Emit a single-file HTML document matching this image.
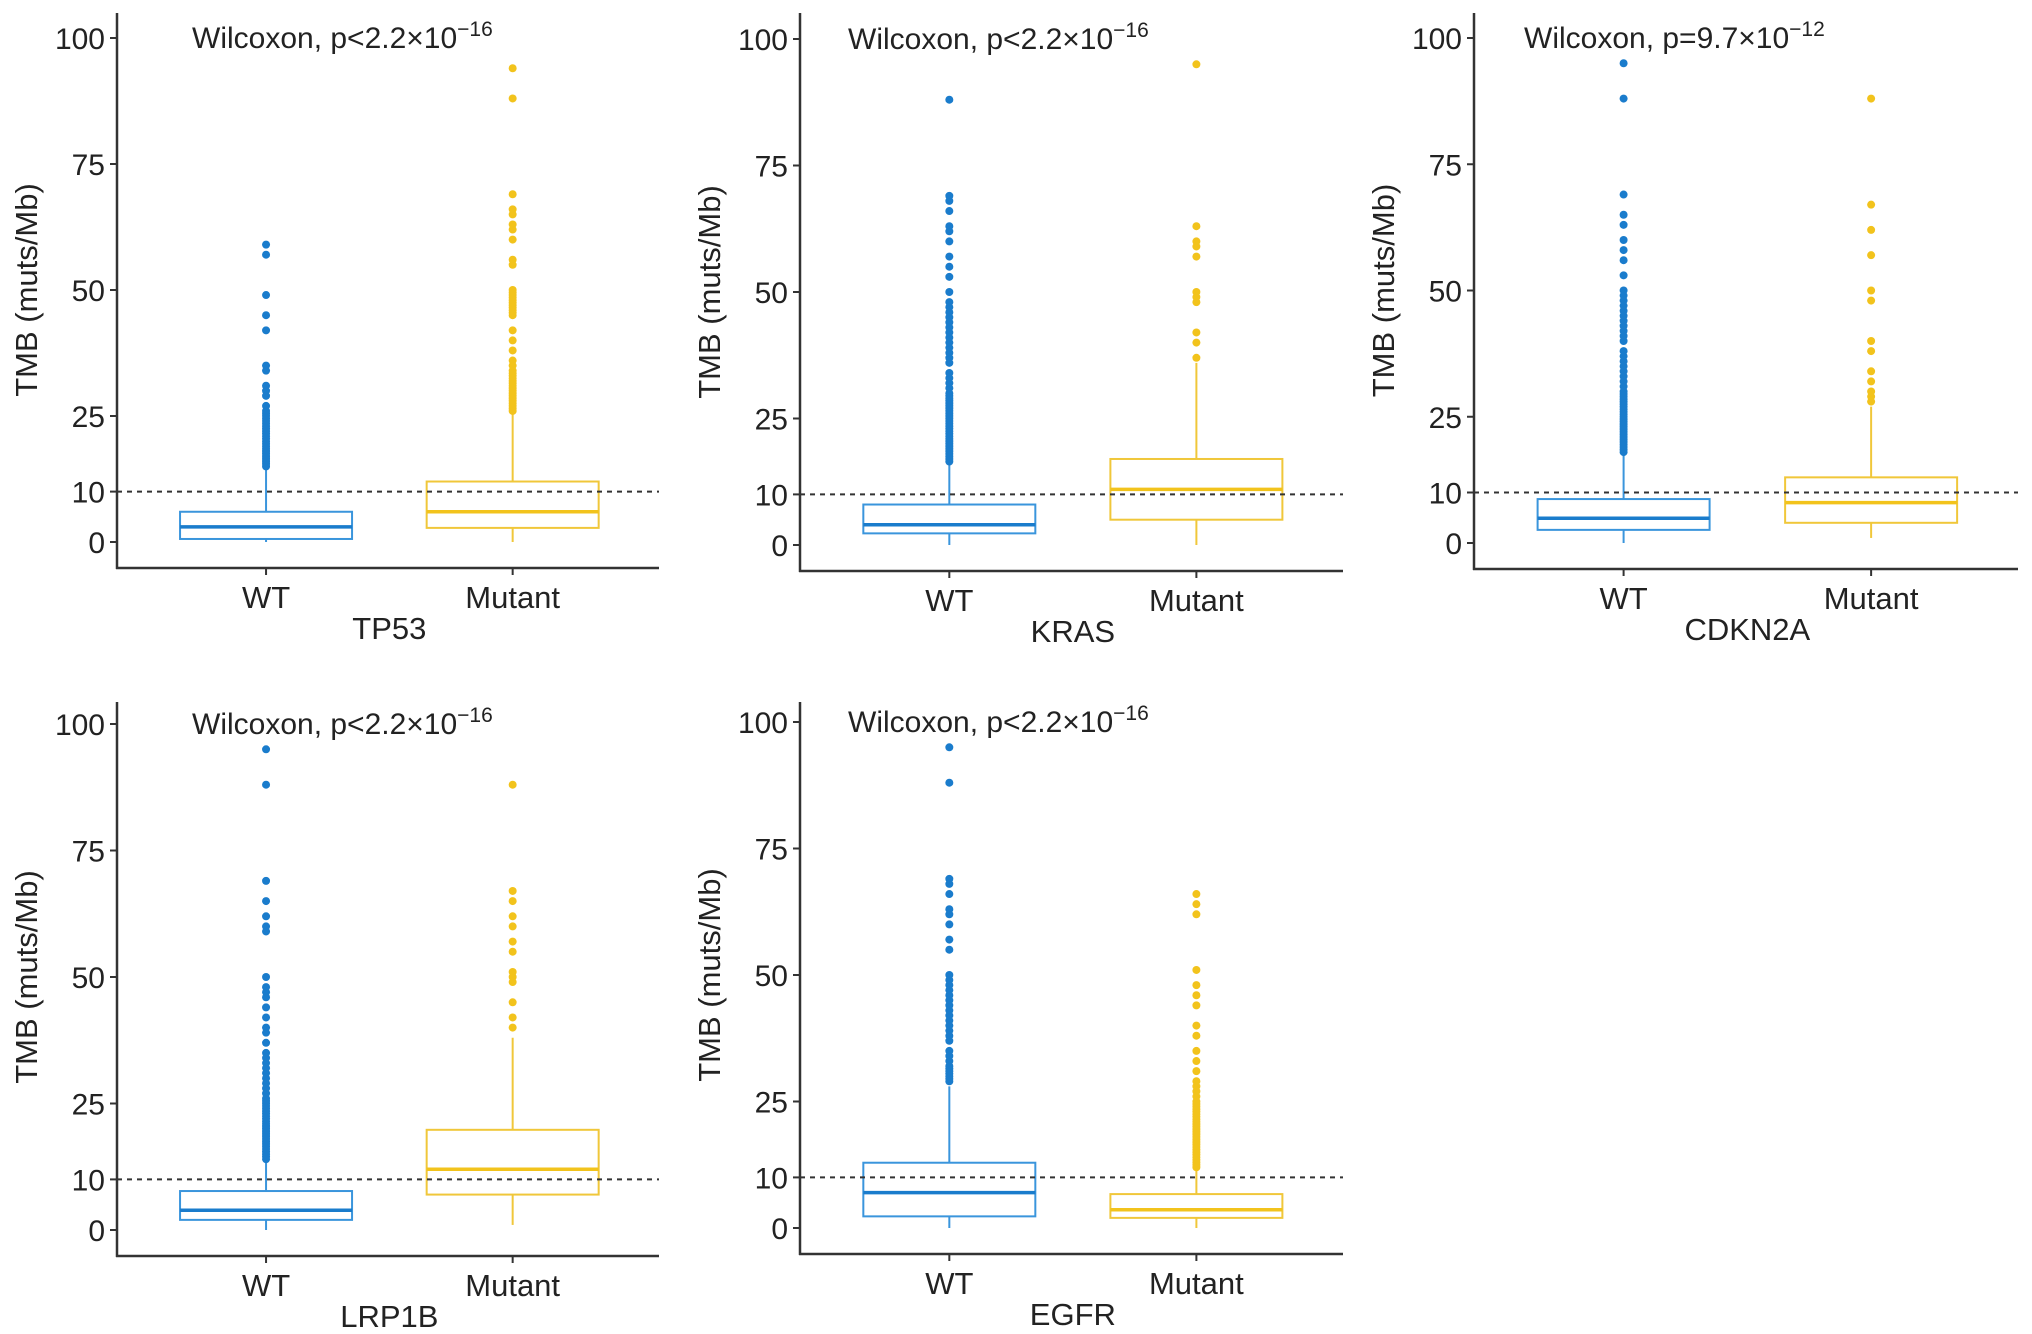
<!DOCTYPE html>
<html><head><meta charset="utf-8"><style>
html,body{margin:0;padding:0;background:#fff;}
svg{display:block;font-family:"Liberation Sans",Arial,sans-serif;}
</style></head><body>
<svg id="chart" width="2032" height="1334" viewBox="0 0 2032 1334" xmlns="http://www.w3.org/2000/svg"></svg>
<script>
// ---- data ----
const genes = ["TP53","KRAS","CDKN2A","LRP1B","EGFR"];
const pvalBase = ["p<2.2×10","p<2.2×10","p=9.7×10","p<2.2×10","p<2.2×10"];
const pvalExp = ["−16","−16","−12","−16","−16"];
const groups = ["WT","Mutant"];
const yTicks = [0,10,25,50,75,100];
// box stats per gene: [whiskerLow, q1, median, q3, whiskerHigh]
const wtStats = [[0,0.6,3,6,15],[0,2.3,4,8,16],[0,2.6,4.9,8.7,18],[0,2,3.9,7.7,14],[0,2.3,7,12.9,28]];
const mutStats = [[0,2.8,6,12,26],[0,5,11,17,36],[1,4,8,13,27],[1,7,12,19.8,38],[0,2,3.6,6.7,12]];
const wtOut = [
 [15,15.5,16,16.5,17,17.5,18,18.5,19,19.5,20,20.5,21,21.5,22,22.5,23,23.5,24,24.5,25,25.5,26,27,29,30,31,34,35,42,45,49,57,59],
 [16.5,17,17.5,18,18.5,19,19.5,20,20.5,21,21.5,22,22.5,23,23.5,24,24.5,25,25.5,26,26.5,27,27.5,28,28.5,29,29.5,30,31,32,33,34,36,37,38,39,40,41,42,43,44,45,46,47,48,50,53,55,57,60,62,63,66,68,69,88],
 [18,18.5,19,19.5,20,20.5,21,21.5,22,22.5,23,23.5,24,24.5,25,25.5,26,26.5,27,27.5,28,28.5,29,29.5,30,31,32,33,34,35,36,37,38,40,41,42,43,44,45,46,47,48,49,50,53,56,58,60,63,65,69,88,95],
 [14,14.5,15,15.5,16,16.5,17,17.5,18,18.5,19,19.5,20,20.5,21,21.5,22,22.5,23,23.5,24,24.5,25,25.5,26,27,28,29,30,31,32,33,34,35,37,39,40,42,44,46,47,48,50,59,60,62,65,69,88,95],
 [29,29.5,30,30.5,31,31.5,32,33,34,35,37,38,39,40,41,42,43,44,45,46,47,48,49,50,55,57,60,62,63,66,68,69,88,95]
];
const mutOut = [
 [26,26.5,27,27.5,28,28.5,29,29.5,30,30.5,31,31.5,32,32.5,33,33.5,34,35,36,38,40,42,45,45.5,46,46.5,47,47.5,48,48.5,49,49.5,50,55,56,60,62,63,65,66,69,88,94],
 [37,40,42,48,49,50,57,59,60,63,95],
 [28,29,30,32,34,38,40,48,50,57,62,67,88],
 [40,42,45,49,50,51,55,57,60,62,65,67,88],
 [12,12.5,13,13.5,14,14.5,15,15.5,16,16.5,17,17.5,18,18.5,19,19.5,20,20.5,21,21.5,22,22.5,23,23.5,24,24.5,25,26,27,28,29,31,33,35,38,40,44,46,48,51,62,64,66]
];
const threshold = 10;
// ---- layout ----
const panels = [
 {ax:117, right:659, y100:38, y0:542, top:13, tx:192},
 {ax:800, right:1343, y100:39, y0:545, top:13, tx:848},
 {ax:1474, right:2018, y100:38, y0:543, top:13, tx:1524},
 {ax:117, right:659, y100:724, y0:1230, top:702, tx:192},
 {ax:800, right:1343, y100:722, y0:1228, top:702, tx:848}
];
const BLUE="#1a7ccc", BLUEL="#3a95dc", YEL="#f2c31c", YELL="#f0c73a";
const NS="http://www.w3.org/2000/svg";
const svg=document.getElementById('chart');
function mk(tag,attrs,parent){const e=document.createElementNS(NS,tag);for(const k in attrs)e.setAttribute(k,attrs[k]);(parent||svg).appendChild(e);return e;}

panels.forEach((p,i)=>{
  const g=mk('g',{});
  
  
  const yS=v=>p.y0-(p.y0-p.y100)*v/100;
  const w=p.right-p.ax;
  const xS=k=>p.ax+w*(0.275+0.455*k);
  const xAxisY=p.y0+26;
  const ya=mk('line',{x1:p.ax,y1:p.top,x2:p.ax,y2:xAxisY+1,stroke:'#333','stroke-width':2.5},g);
  
  
  const xa=mk('line',{x1:p.ax-1,y1:xAxisY,x2:p.right,y2:xAxisY,stroke:'#333','stroke-width':2.5},g);
  
  
  yTicks.forEach(t=>{
    const y=yS(t);
    mk('line',{x1:p.ax-7,y1:y,x2:p.ax,y2:y,stroke:'#333','stroke-width':2},g);
    const tx=mk('text',{x:p.ax-12,y:y+11,'text-anchor':'end','font-size':30,fill:'#222'},g);
    tx.textContent=t;
    
    
  });
  const yt=mk('text',{x:0,y:0,transform:`translate(${p.ax-80},${(p.y0+p.y100)/2}) rotate(-90)`,'text-anchor':'middle','font-size':31,fill:'#222'},g);
  yt.textContent='TMB (muts/Mb)';
  
  
  groups.forEach((gr,k)=>{
    const x=xS(k);
    mk('line',{x1:x,y1:xAxisY,x2:x,y2:xAxisY+7,stroke:'#333','stroke-width':2},g);
    const lt=mk('text',{x:x,y:xAxisY+40,'text-anchor':'middle','font-size':31,fill:'#222'},g);
    lt.textContent=gr;
    
    
  });
  const gt=mk('text',{x:(xS(0)+xS(1))/2,y:xAxisY+71,'text-anchor':'middle','font-size':31,fill:'#222'},g);
  gt.textContent=genes[i];
  
  
  const pt=mk('text',{x:p.tx,y:p.y100+10,'font-size':30,fill:'#222'},g);
  
  
  pt.textContent='Wilcoxon, '+pvalBase[i];
  const sup=mk('tspan',{dy:-12,'font-size':21},pt);
  sup.textContent=pvalExp[i];
  [[wtStats[i],wtOut[i],BLUE,BLUEL,'wt'],[mutStats[i],mutOut[i],YEL,YELL,'mutant']].forEach(([s,out,c,cl,nm],k)=>{
    const x=xS(k), hw=86;
    const bg=mk('g',{},g);
    
    
    mk('line',{x1:x,y1:yS(s[3]),x2:x,y2:yS(s[4]),stroke:cl,'stroke-width':2},bg);
    mk('line',{x1:x,y1:yS(s[1]),x2:x,y2:yS(s[0]),stroke:cl,'stroke-width':2},bg);
    mk('rect',{x:x-hw,y:yS(s[3]),width:2*hw,height:yS(s[1])-yS(s[3]),fill:'none',stroke:cl,'stroke-width':2},bg);
    mk('line',{x1:x-hw,y1:yS(s[2]),x2:x+hw,y2:yS(s[2]),stroke:c,'stroke-width':3.5},bg);
    out.forEach(v=>{
      const d=mk('circle',{cx:x,cy:yS(v),r:4,fill:c},bg);
      
      
    });
  });
  const dl=mk('line',{x1:p.ax,y1:yS(threshold),x2:p.right,y2:yS(threshold),stroke:'#333','stroke-width':2,'stroke-dasharray':'5,5'},g);
  
  
});
</script>
</body></html>
